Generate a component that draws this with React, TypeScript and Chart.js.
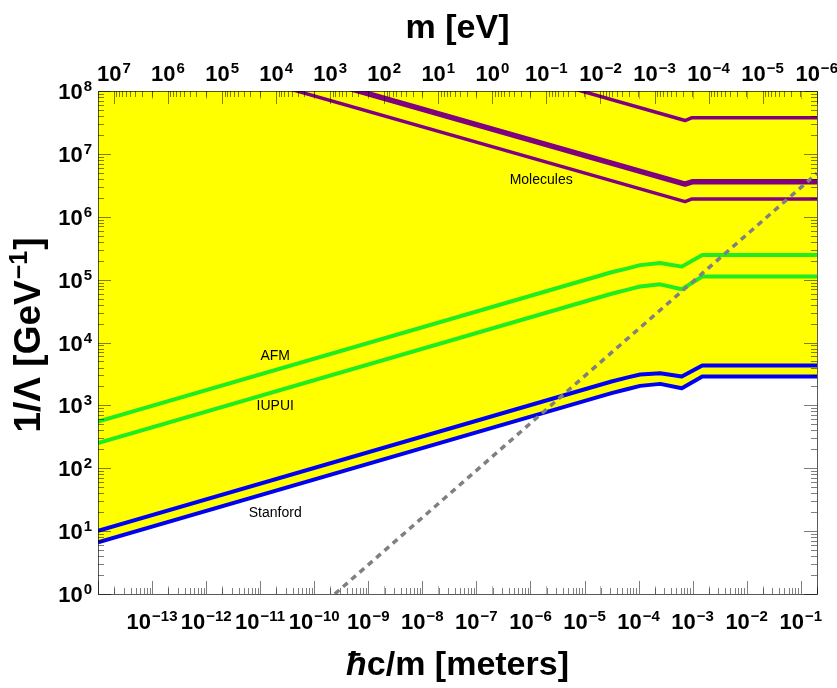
import React, { useEffect, useRef } from "react";
import { Chart, registerables } from "chart.js";

Chart.register(...registerables);

// ħc in eV·m, used to place the top m [eV] axis on the λ = ħc/m scale
const HBARC = 1.97327e-7;

// Axis ranges
const X_MIN = 1e-14;
const X_MAX = 0.2;
const Y_MIN = 1;
const Y_MAX = 1e8;

// Tick labels (decade exponents)
const BOTTOM_TICK_EXPONENTS = [-13, -12, -11, -10, -9, -8, -7, -6, -5, -4, -3, -2, -1];
const TOP_TICK_EXPONENTS = [7, 6, 5, 4, 3, 2, 1, 0, -1, -2, -3, -4, -5, -6];
const LEFT_TICK_EXPONENTS = [0, 1, 2, 3, 4, 5, 6, 7, 8];

// Shared λ grid (meters) for the Stanford / AFM / IUPUI curves
const LAMBDA_GRID = [1e-14, 3.16e-5, 6.31e-5, 1.07e-4, 2.51e-4, 6.31e-4, 1.51e-3, 0.2];
const AFM = [552, 1.31e5, 1.51e5, 1.7e5, 1.84e5, 1.61e5, 2.47e5, 2.47e5];
const IUPUI = [251, 5.96e4, 6.92e4, 7.76e4, 8.41e4, 7.03e4, 1.12e5, 1.12e5];
const STANFORD_UPPER = [10.1, 2399, 2786, 3090, 3251, 2871, 4295, 4295];
const STANFORD_LOWER = [6.61, 1567, 1820, 2042, 2198, 1875, 2871, 2871];

// Molecules curves
const MOL_TOP_X = [3.39e-6, 7.24e-4, 9.77e-4, 0.2];
const MOL_TOP_Y = [1.26e8, 3.39e7, 3.77e7, 3.77e7];
const MOL_MID_X = [2.57e-10, 7.24e-4, 9.77e-4, 0.2];
const MOL_MID_Y = [1.26e8, 3.31e6, 3.59e6, 3.59e6];
const MOL_LOW_X = [1.86e-11, 7.24e-4, 9.77e-4, 0.2];
const MOL_LOW_Y = [1.26e8, 1.74e6, 1.92e6, 1.92e6];

// Dotted gray reference line
const DOT_X = [2.4e-10, 0.2];
const DOT_Y = [1, 4.9e6];

// Curve annotations
const ANNOT_TEXT = ["Molecules", "AFM", "IUPUI", "Stanford"];
const ANNOT_X = [1.58e-6, 1.9e-11, 1.9e-11, 1.9e-11];
const ANNOT_Y = [3.85e6, 6.1e3, 955, 19.3];

const FONT = '"Liberation Sans", Arial, Helvetica, sans-serif';

function drawPow(
  ctx: CanvasRenderingContext2D,
  exp: number,
  x: number,
  baseY: number,
  align: "center" | "right"
) {
  const baseFont = `bold 22px ${FONT}`;
  const expFont = `bold 15px ${FONT}`;
  const expStr = exp < 0 ? "\u2212" + Math.abs(exp) : String(exp);
  ctx.font = baseFont;
  const wb = ctx.measureText("10").width;
  ctx.font = expFont;
  const we = ctx.measureText(expStr).width;
  const total = wb + 1 + we;
  const x0 = align === "center" ? x - total / 2 : x - total;
  ctx.textAlign = "left";
  ctx.textBaseline = "alphabetic";
  ctx.fillStyle = "#000";
  ctx.font = baseFont;
  ctx.fillText("10", x0, baseY);
  ctx.font = expFont;
  ctx.fillText(expStr, x0 + wb + 1, baseY - 8);
}

const decorPlugin = {
  id: "decor",
  afterDatasetsDraw(chart: any) {
    const ctx: CanvasRenderingContext2D = chart.ctx;
    const a = chart.chartArea;
    const xs = chart.scales.x;
    const ys = chart.scales.y;
    const inX = (v: number) => v >= X_MIN * 0.999 && v <= X_MAX * 1.001;
    ctx.save();
    ctx.lineWidth = 1;

    const seg = (x1: number, y1: number, x2: number, y2: number) => {
      ctx.beginPath();
      ctx.moveTo(x1, y1);
      ctx.lineTo(x2, y2);
      ctx.stroke();
    };
    const snap = (p: number) => Math.round(p) + 0.5;
    const MAJ = 13;
    const MED = 8;
    const MIN = 6;
    const tickCol = "rgba(0,0,0,0.5)";
    const lightCol = "rgba(0,0,0,0.3)";

    // Bottom axis: λ decades
    for (let d = -14; d <= 0; d++) {
      for (let k = 1; k <= 9; k++) {
        const v = k * Math.pow(10, d);
        if (!inX(v)) continue;
        const px = snap(xs.getPixelForValue(v));
        ctx.strokeStyle = tickCol;
        seg(px, a.bottom, px, a.bottom - (k === 1 ? MAJ : MIN));
        if (k === 1) {
          ctx.strokeStyle = lightCol;
          seg(px, a.top, px, a.top + MED);
        }
      }
    }
    // Top axis: m decades
    for (let e = -7; e <= 8; e++) {
      for (let k = 1; k <= 9; k++) {
        const v = HBARC / (k * Math.pow(10, e));
        if (!inX(v)) continue;
        const px = snap(xs.getPixelForValue(v));
        ctx.strokeStyle = tickCol;
        seg(px, a.top, px, a.top + (k === 1 ? MAJ : MIN));
        if (k === 1) {
          ctx.strokeStyle = lightCol;
          seg(px, a.bottom, px, a.bottom - MED);
        }
      }
    }
    // Left / right axes
    for (let d = 0; d <= 8; d++) {
      for (let k = 1; k <= 9; k++) {
        const v = k * Math.pow(10, d);
        if (v > Y_MAX * 1.001) continue;
        const py = snap(ys.getPixelForValue(v));
        ctx.strokeStyle = tickCol;
        const len = k === 1 ? MAJ : MIN;
        seg(a.left, py, a.left + len, py);
        seg(a.right, py, a.right - len, py);
      }
    }

    // Frame
    ctx.strokeStyle = "rgba(0,0,0,0.65)";
    ctx.strokeRect(
      Math.round(a.left) + 0.5,
      Math.round(a.top) + 0.5,
      Math.round(a.right - a.left),
      Math.round(a.bottom - a.top)
    );

    // Tick labels
    BOTTOM_TICK_EXPONENTS.forEach((e) => {
      drawPow(ctx, e, xs.getPixelForValue(Math.pow(10, e)), a.bottom + 35, "center");
    });
    TOP_TICK_EXPONENTS.forEach((e) => {
      drawPow(ctx, e, xs.getPixelForValue(HBARC / Math.pow(10, e)), a.top - 10, "center");
    });
    LEFT_TICK_EXPONENTS.forEach((e) => {
      drawPow(ctx, e, a.left - 6, ys.getPixelForValue(Math.pow(10, e)) + 8, "right");
    });

    // Axis titles
    const cx = (a.left + a.right) / 2;
    ctx.fillStyle = "#000";
    ctx.textBaseline = "alphabetic";
    ctx.textAlign = "center";
    ctx.font = `bold 34px ${FONT}`;
    ctx.fillText("m [eV]", cx, 38);

    // bottom title with italic ħ
    const hbar = "\u0127";
    const rest = "c/m [meters]";
    ctx.font = `italic bold 34px ${FONT}`;
    const wh = ctx.measureText(hbar).width;
    ctx.font = `bold 34px ${FONT}`;
    const wr = ctx.measureText(rest).width;
    const bx = cx - (wh + wr) / 2;
    ctx.textAlign = "left";
    ctx.font = `italic bold 34px ${FONT}`;
    ctx.fillText(hbar, bx, 675);
    ctx.font = `bold 34px ${FONT}`;
    ctx.fillText(rest, bx + wh, 675);

    // left title with real superscript
    const t1 = "1/\u039B [GeV";
    const tSup = "\u22121";
    const t2 = "]";
    const bigF = `bold 37px ${FONT}`;
    const supF = `bold 25px ${FONT}`;
    ctx.font = bigF;
    const w1 = ctx.measureText(t1).width;
    const w2 = ctx.measureText(t2).width;
    ctx.font = supF;
    const ws = ctx.measureText(tSup).width;
    const tot = w1 + ws + w2 + 2;
    ctx.save();
    ctx.translate(40, 335);
    ctx.rotate(-Math.PI / 2);
    ctx.textAlign = "left";
    ctx.font = bigF;
    ctx.fillText(t1, -tot / 2, 0);
    ctx.font = supF;
    ctx.fillText(tSup, -tot / 2 + w1 + 1, -13);
    ctx.font = bigF;
    ctx.fillText(t2, -tot / 2 + w1 + ws + 2, 0);
    ctx.restore();

    // Annotations
    ctx.font = `14px ${FONT}`;
    ctx.textAlign = "center";
    ctx.textBaseline = "middle";
    ctx.fillStyle = "#000";
    ANNOT_TEXT.forEach((t, i) => {
      ctx.fillText(t, xs.getPixelForValue(ANNOT_X[i]), ys.getPixelForValue(ANNOT_Y[i]));
    });

    ctx.restore();
  },
};

export default function App() {
  const ref = useRef<HTMLCanvasElement>(null);

  useEffect(() => {
    const pts = (xv: number[], yv: number[]) => xv.map((x, i) => ({ x, y: yv[i] }));
    const line = (label: string, data: any[], color: string, width: number, extra: any = {}) => ({
      label,
      data,
      borderColor: color,
      borderWidth: width,
      pointRadius: 0,
      fill: false,
      tension: 0,
      borderJoinStyle: "round",
      ...extra,
    });

    const chart = new Chart(ref.current as HTMLCanvasElement, {
      type: "line",
      data: {
        datasets: [
          line("ħc/m scaling", pts(DOT_X, DOT_Y), "#808080", 3.5, { borderDash: [6, 5] }),
          line("Molecules (top)", pts(MOL_TOP_X, MOL_TOP_Y), "#800080", 3.5),
          line("Molecules (mid)", pts(MOL_MID_X, MOL_MID_Y), "#800080", 5.5),
          line("Molecules (low)", pts(MOL_LOW_X, MOL_LOW_Y), "#800080", 3.5),
          line("AFM", pts(LAMBDA_GRID, AFM), "#20ec20", 4),
          line("IUPUI", pts(LAMBDA_GRID, IUPUI), "#20ec20", 4),
          line("Stanford (upper)", pts(LAMBDA_GRID, STANFORD_UPPER), "#0000f5", 4),
          line("Stanford (lower)", pts(LAMBDA_GRID, STANFORD_LOWER), "#0000f5", 4, {
            fill: "end",
            backgroundColor: "#ffff00",
          }),
        ],
      },
      options: {
        responsive: false,
        animation: false,
        devicePixelRatio: 1,
        layout: { padding: { left: 98, right: 20, top: 91, bottom: 94 } },
        scales: {
          x: { type: "logarithmic", min: X_MIN, max: X_MAX, display: false },
          y: { type: "logarithmic", min: Y_MIN, max: Y_MAX, display: false },
        },
        plugins: {
          legend: { display: false },
          tooltip: { enabled: false },
          filler: { drawTime: "beforeDatasetsDraw" },
        } as any,
      },
      plugins: [decorPlugin],
    } as any);

    return () => chart.destroy();
  }, []);

  return (
    <div style={{ position: "fixed", left: 0, top: 0, width: 837, height: 688, background: "#fff" }}>
      <canvas ref={ref} width={837} height={688} style={{ display: "block" }} />
    </div>
  );
}
